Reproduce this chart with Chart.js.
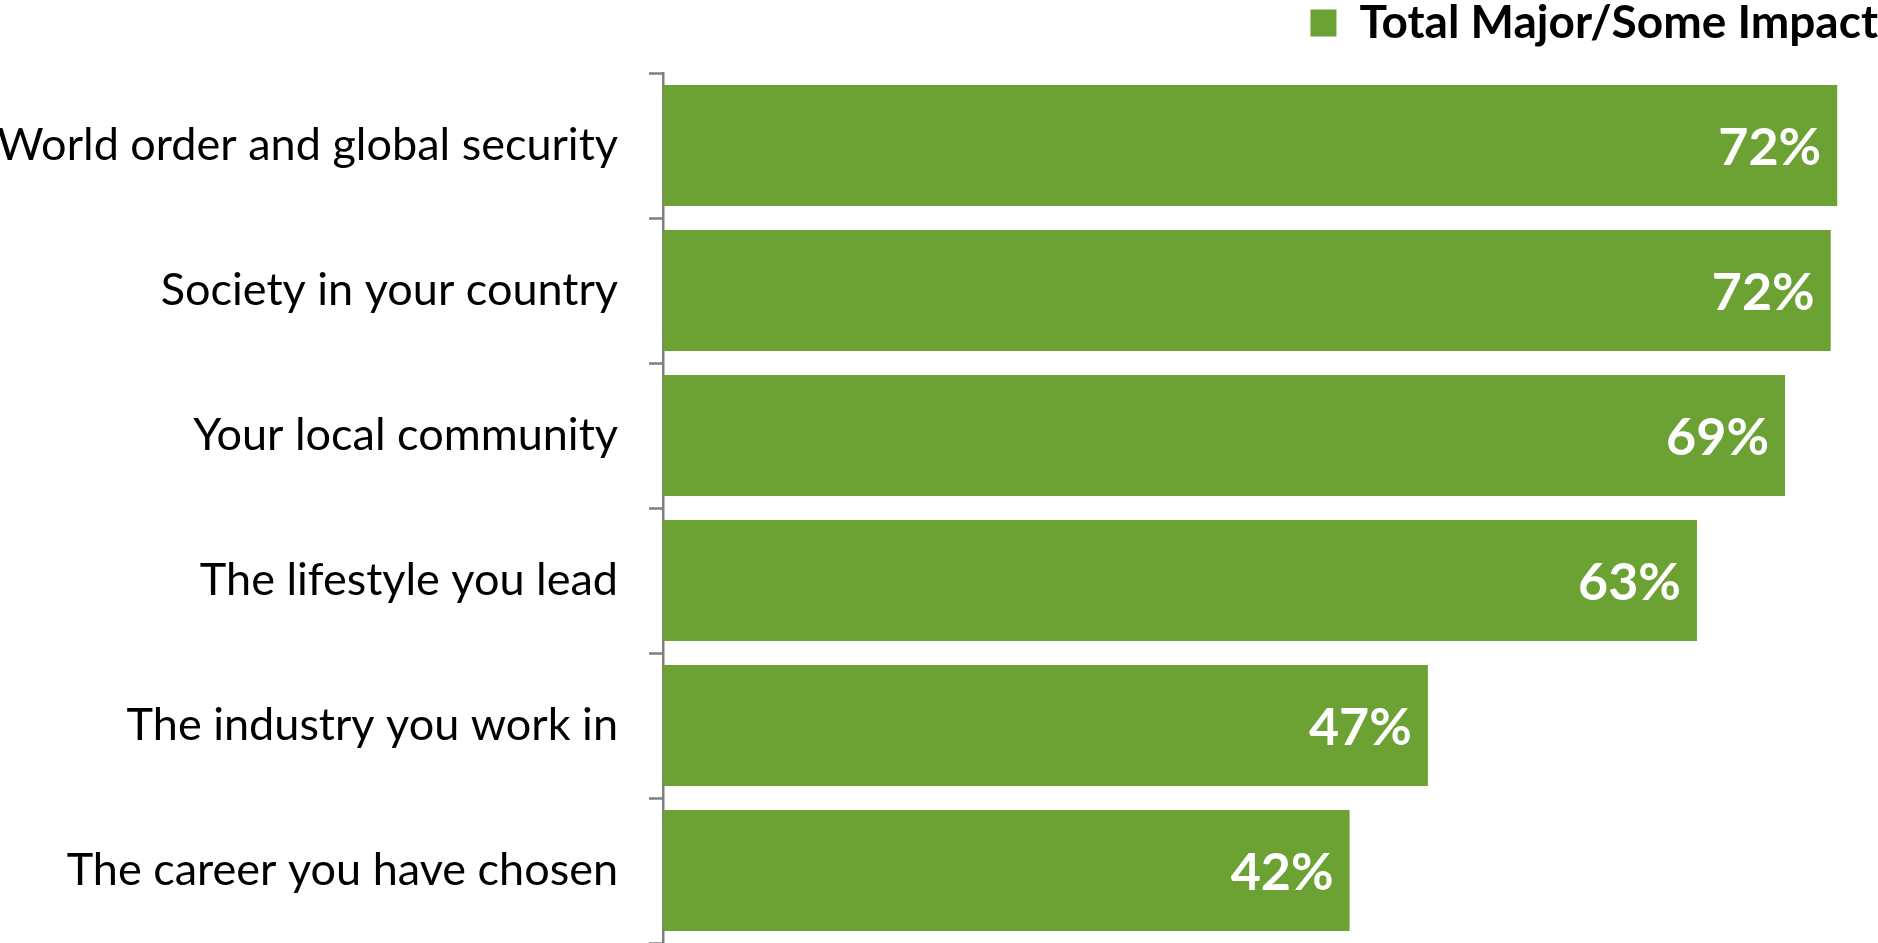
<!DOCTYPE html>
<html>
<head>
    <title>Total Major/Some Impact</title>
    <script src="https://cdn.jsdelivr.net/npm/chart.js"></script>
    <style>
        html, body {
            margin: 0;
            padding: 0;
            background: #ffffff;
        }
        .container {
            width: 1878px;
            height: 943px;
        }
    </style>
</head>
<body>
    <div class="container">
        <canvas id="chart" width="1878" height="943"></canvas>
    </div>
    <script>
        // data
        var categories = [
            'World order and global security',
            'Society in your country',
            'Your local community',
            'The lifestyle you lead',
            'The industry you work in',
            'The career you have chosen'
        ];
        var impactValues = [72.0, 71.6, 68.8, 63.4, 46.9, 42.1];
        var seriesName = 'Total Major/Some Impact';

        var green = '#6CA133';

        // white value labels inside the bar ends
        var valueLabels = {
            id: 'valueLabels',
            afterDatasetsDraw: function(chart) {
                var ctx = chart.ctx;
                var meta = chart.getDatasetMeta(0);
                ctx.save();
                ctx.fillStyle = '#ffffff';
                ctx.font = 'bold 52px Lato';
                ctx.textAlign = 'right';
                ctx.textBaseline = 'middle';
                meta.data.forEach(function(bar, i) {
                    var txt = Math.round(impactValues[i]) + '%';
                    ctx.fillText(txt, bar.x - 16, bar.y + 3);
                });
                ctx.restore();
            }
        };

        var ctx = document.getElementById('chart').getContext('2d');
        var chart = new Chart(ctx, {
            type: 'bar',
            data: {
                labels: categories,
                datasets: [{
                    label: seriesName,
                    data: impactValues,
                    backgroundColor: green,
                    borderWidth: 0,
                    barPercentage: 0.835,
                    categoryPercentage: 1.0
                }]
            },
            options: {
                indexAxis: 'y',
                responsive: false,
                animation: false,
                layout: { padding: 0 },
                plugins: {
                    legend: {
                        position: 'top',
                        align: 'end',
                        labels: {
                            boxWidth: 26,
                            boxHeight: 27,
                            padding: 0,
                            color: '#000000',
                            font: { family: 'Lato', size: 46, weight: 'bold' }
                        }
                    },
                    tooltip: { enabled: false }
                },
                scales: {
                    x: {
                        position: 'top',
                        min: 0,
                        max: 74.5,
                        ticks: { display: false },
                        grid: { display: false },
                        border: { display: false },
                        afterFit: function(scale) { scale.height = 17; }
                    },
                    y: {
                        z: 1,
                        grid: {
                            offset: true,
                            drawOnChartArea: false,
                            tickLength: 14,
                            tickWidth: 2.5,
                            tickColor: '#7f7f7f'
                        },
                        border: { color: '#7f7f7f', width: 2.5 },
                        ticks: {
                            color: '#000000',
                            padding: 31,
                            font: { family: 'Lato', size: 45 }
                        },
                        afterFit: function(scale) {
                            scale.width = 663;
                            scale.paddingTop = 0;
                            scale.paddingBottom = 0;
                        }
                    }
                }
            },
            plugins: [valueLabels]
        });
    </script>
</body>
</html>
